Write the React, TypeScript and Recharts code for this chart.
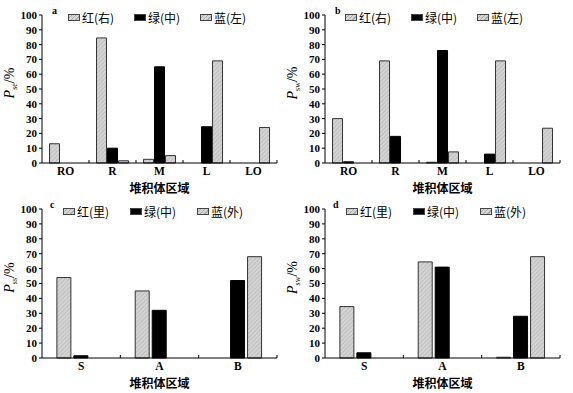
import React from 'react';
import { BarChart, Bar, XAxis, YAxis, Legend } from 'recharts';

// categories
const zonesTop = ['RO', 'R', 'M', 'L', 'LO'];
const zonesBottom = ['S', 'A', 'B'];
const yTicks = [0, 10, 20, 30, 40, 50, 60, 70, 80, 90, 100];

// panel a
const redA = [13, 84.5, 2.5, 0, 0];
const greenA = [0, 10, 65, 24.5, 0];
const blueA = [0, 1.5, 5, 69, 24];
// panel b
const redB = [30, 69, 0.5, 0, 0];
const greenB = [0.8, 18, 76, 6, 0];
const blueB = [0, 0, 7.5, 69, 23.5];
// panel c
const redC = [54, 45, 0];
const greenC = [1.5, 32, 52];
const blueC = [0, 0, 68];
// panel d
const redD = [34.5, 64.5, 0.5];
const greenD = [3.5, 61, 28];
const blueD = [0, 0, 68];

const namesTop = ['红(右)', '绿(中)', '蓝(左)'];
const namesBottom = ['红(里)', '绿(中)', '蓝(外)'];

const serif = '"Liberation Serif", "Times New Roman", serif';
const cjk = '"Noto Sans CJK SC", "Liberation Serif", serif';

const makeRows = (cats: string[], r: number[], g: number[], b: number[]) =>
  cats.map((c, i) => ({ zone: c, red: r[i], green: g[i], blue: b[i] }));

const hatchBg = 'repeating-linear-gradient(-45deg, #d6d6d6 0px, #d6d6d6 2px, #a8a8a8 2px, #a8a8a8 3px)';

const LegendBox = ({ tag, names, itemW, tagW }: { tag: string; names: string[]; itemW: number; tagW: number }) => (
  <div style={{ display: 'flex', alignItems: 'center', whiteSpace: 'nowrap', fontFamily: cjk, fontSize: 12, color: '#000' }}>
    <span style={{ fontFamily: serif, fontWeight: 'bold', fontSize: 10, width: tagW, alignSelf: 'flex-start', marginTop: -4 }}>{tag}</span>
    {names.map((n, i) => (
      <div key={n} style={{ display: 'flex', alignItems: 'center', width: itemW }}>
        <span
          style={{
            display: 'inline-block', width: 10, height: 5, marginRight: 2,
            border: '1px solid #444',
            background: i === 1 ? '#000' : hatchBg,
          }}
        />
        <span>{n}</span>
      </div>
    ))}
  </div>
);

const YLabel = (props: any) => {
  const { viewBox, sub } = props;
  const x = viewBox.x + 14;
  const y = viewBox.y + viewBox.height / 2 - 6;
  return (
    <text x={x} y={y} transform={`rotate(-90 ${x} ${y})`} textAnchor="middle" fontFamily={serif} fontSize={14} fill="#000">
      <tspan fontStyle="italic">P</tspan>
      <tspan fontSize={8} dy={3}>{sub}</tspan>
      <tspan dy={-3}>/%</tspan>
    </text>
  );
};

// category label plus a short upward tick on the band boundary
const ZoneTick = (props: any) => {
  const { x, y, payload, margin, band } = props;
  const half = payload && payload.offset ? payload.offset : band / 2;
  const base = y - margin;
  return (
    <g>
      <text x={x} y={y} dy="0.71em" textAnchor="middle" fontFamily={serif} fontWeight="bold" fontSize={11.5} fill="#000">
        {payload.value}
      </text>
      <line x1={x + half} x2={x + half} y1={base} y2={base - 3} stroke="#000" />
    </g>
  );
};

interface PanelProps {
  tag: string;
  sub: string;
  cats: string[];
  red: number[];
  green: number[];
  blue: number[];
  names: string[];
  height: number;
  top: number;
  xHeight: number;
  titleOffset: number;
  gap: string;
  barGap: number;
  legendLeft: number;
  itemW: number;
  tagW: number;
}

const Panel = (p: PanelProps) => {
  const rows = makeRows(p.cats, p.red, p.green, p.blue);
  const pid = `hatch-${p.tag}`;
  const tickMargin = 4;
  return (
    <BarChart
      width={283}
      height={p.height}
      data={rows}
      margin={{ top: p.top, right: 6, left: 0, bottom: 0 }}
      barCategoryGap={p.gap}
      barGap={p.barGap}
    >
      <defs>
        <pattern id={pid} width="3" height="3" patternUnits="userSpaceOnUse" patternTransform="rotate(45)">
          <rect width="3" height="3" fill="#d4d4d4" />
          <line x1="0" y1="0" x2="0" y2="3" stroke="#a9a9a9" strokeWidth="1" />
        </pattern>
      </defs>
      <XAxis
        dataKey="zone"
        height={p.xHeight}
        axisLine={{ stroke: '#000' }}
        tickLine={false}
        tickSize={0}
        tickMargin={tickMargin}
        interval={0}
        tick={<ZoneTick margin={tickMargin} band={235 / p.cats.length} />}
        label={{ value: '堆积体区域', position: 'insideBottom', offset: p.titleOffset, fontFamily: cjk, fontSize: 12, fontWeight: 'bold', fill: '#000' }}
      />
      <YAxis
        width={42}
        domain={[0, 100]}
        ticks={yTicks}
        interval={0}
        axisLine={{ stroke: '#000' }}
        tickLine={{ stroke: '#000' }}
        tickSize={3}
        tickMargin={2}
        tick={{ fontFamily: serif, fontWeight: 'bold', fontSize: 11, fill: '#000' }}
        label={<YLabel sub={p.sub} />}
      />
      <Legend
        layout="horizontal"
        verticalAlign="middle"
        align="center"
        wrapperStyle={{ top: p.top - 6, left: p.legendLeft, width: 'auto' }}
        content={() => <LegendBox tag={p.tag} names={p.names} itemW={p.itemW} tagW={p.tagW} />}
      />
      <Bar dataKey="red" name={p.names[0]} fill={`url(#${pid})`} stroke="#333" strokeWidth={1} isAnimationActive={false} />
      <Bar dataKey="green" name={p.names[1]} fill="#000" stroke="#000" strokeWidth={1} isAnimationActive={false} />
      <Bar dataKey="blue" name={p.names[2]} fill={`url(#${pid})`} stroke="#333" strokeWidth={1} isAnimationActive={false} />
    </BarChart>
  );
};

export default function App() {
  return (
    <div style={{ position: 'absolute', left: 0, top: 0, width: 573, height: 393, background: '#fff' }}>
      <div style={{ position: 'absolute', left: 0, top: 0 }}>
        <Panel tag="a" sub="se" cats={zonesTop} red={redA} green={greenA} blue={blueA} names={namesTop}
          height={195} top={15} xHeight={32} titleOffset={2} gap="16%" barGap={1} legendLeft={52} itemW={66} tagW={16} />
      </div>
      <div style={{ position: 'absolute', left: 283, top: 0 }}>
        <Panel tag="b" sub="sw" cats={zonesTop} red={redB} green={greenB} blue={blueB} names={namesTop}
          height={195} top={15} xHeight={32} titleOffset={2} gap="16%" barGap={1} legendLeft={52} itemW={66} tagW={10} />
      </div>
      <div style={{ position: 'absolute', left: 0, top: 195 }}>
        <Panel tag="c" sub="ss" cats={zonesBottom} red={redC} green={greenC} blue={blueC} names={namesBottom}
          height={198} top={14} xHeight={35} titleOffset={5} gap="19%" barGap={3} legendLeft={50} itemW={67} tagW={13} />
      </div>
      <div style={{ position: 'absolute', left: 283, top: 195 }}>
        <Panel tag="d" sub="sw" cats={zonesBottom} red={redD} green={greenD} blue={blueD} names={namesBottom}
          height={198} top={14} xHeight={35} titleOffset={5} gap="19%" barGap={3} legendLeft={50} itemW={67} tagW={13} />
      </div>
    </div>
  );
}
